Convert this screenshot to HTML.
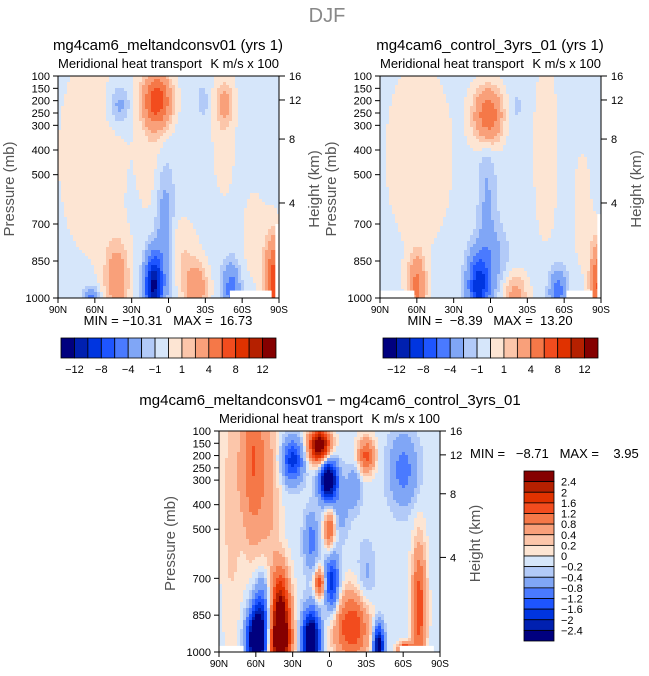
<!DOCTYPE html>
<html><head><meta charset="utf-8">
<style>
body{margin:0;background:#fff;}
svg{display:block;font-family:"Liberation Sans",sans-serif;}
</style></head>
<body>
<svg id="fig" width="649" height="676" viewBox="0 0 649 676">
<text x="327" y="22" font-size="20" fill="#888" text-anchor="middle">DJF</text>
</svg>
<script>
// ---- data ----
const latTicks = ["90N","60N","30N","0","30S","60S","90S"];
const latTickValues = [90,60,30,0,-30,-60,-90];
const presTicks = [100,150,200,250,300,400,500,700,850,1000];
const heightTicks = [16,12,8,4];
const heightTickFrac = [0,0.108,0.284,0.572];
const levels1 = [-12,-10,-8,-6,-4,-2,-1,0,1,2,4,6,8,10,12];
const levelLabels1 = ["−12","−8","−4","−1","1","4","8","12"];
const levels3 = [-2.4,-2,-1.6,-1.2,-0.8,-0.4,-0.2,0,0.2,0.4,0.8,1.2,1.6,2,2.4];
const levelLabels3 = ["2.4","2","1.6","1.2","0.8","0.4","0.2","0","−0.2","−0.4","−0.8","−1.2","−1.6","−2","−2.4"];
const colors = ["#00007f","#0020b0","#0035e0","#1e55ff","#4a7aff","#80a6f6","#b2caf8","#d6e6fa","#fde5d3","#fcc6aa","#f9a07a","#f57848","#f24c1e","#e03200","#b52000","#850000"];
// blobs: [lat, pressure, amplitude, sigmaLat, sigmaP]
const base1 = -0.5;
const blobs1 = [
 [62,420,1.1,22,330],[14,380,0.9,8,230],[-45,320,1.2,7,200],
 [9,200,7.5,8,75],[40,220,-2.3,6,55],[-28,200,-1.4,3,40],[-46,210,2.4,5,55],
 [12,950,-12,5,90],[3,720,-2.8,5,170],[42,925,3.6,7,110],[-22,960,4.2,7,70],
 [-51,960,-4.5,5,70],[-86,950,8,5,130],[63,1000,-4.5,4,30],[-10,800,1.4,10,90],[-70,750,1.0,8,150]
];
const base2 = -0.5;
const blobs2 = [
 [58,420,1.1,22,300],[-45,400,1.1,8,300],[2,260,6.5,8,80],[3,600,-1.7,5,220],
 [10,950,-8.5,6,90],[-2,850,-2,8,100],[60,950,5,5,90],[-20,985,3.2,7,60],
 [-55,970,-4.5,5,60],[-87,950,6.5,4,120],[-75,650,1.0,6,200],[-22,220,-1.2,2,30]
];
const base3 = -0.1;
const blobs3 = [
 [62,220,1.3,7,250],[80,400,0.4,6,400],[48,350,0.5,6,250],[8,160,3.2,6,50],[30,220,-1.7,6,60],
 [1,300,-3.2,5,60],[0,500,1.3,3,60],[8,720,1.6,3,40],[-2,720,-1.8,4,80],
 [15,550,-0.9,4,80],[-30,200,1.4,5,50],[-60,260,-0.9,8,100],[-20,330,-0.7,4,60],
 [60,955,-3.4,5,80],[40,950,3.6,6,120],[40,760,1.2,5,100],[15,950,-3.4,5,80],
 [-18,900,1.7,10,100],[-40,975,-2.8,3,60],[-73,820,1.6,4,180],[-62,995,2.6,4,20],
 [55,860,-1.5,5,110],[-30,700,-0.4,5,100],[-10,420,-0.5,4,80]
];
// ---- drawing helpers ----
const NS="http://www.w3.org/2000/svg";
const svg=document.getElementById('fig');
function mk(tag,attrs,parent){const e=document.createElementNS(NS,tag);for(const k in attrs)e.setAttribute(k,attrs[k]);(parent||svg).appendChild(e);return e;}
function txt(x,y,s,size,anchor,fill,parent){const t=mk('text',{x:x,y:y,'font-size':size,'text-anchor':anchor||'start',fill:fill||'#000'},parent);t.textContent=s;return t;}
function field(blobs,base,lat,p){let v=base;for(const b of blobs){const dl=(lat-b[0])/b[3],dp=(p-b[1])/b[4];v+=b[2]*Math.exp(-0.5*(dl*dl+dp*dp));}return v;}
function colorFor(v,lev){let i=0;while(i<lev.length&&v>lev[i])i++;return colors[i];}

function panel(P){
 const g=mk('g',{});
 
 
 const L=P.x,T=P.y,W=P.w,H=P.h;
 const xOf=lat=>L+(90-lat)/180*W;
 const yOf=p=>T+(p-100)/900*H;
 const cell=3;
 const cells=mk('g',{},g);
 
 
 for(let y=T;y<T+H;y+=cell){for(let x=L;x<L+W;x+=cell){
   const lat=90-((x+cell/2-L)/W)*180,p=100+((y+cell/2-T)/H)*900;
   mk('rect',{x:x,y:y,width:Math.min(cell,L+W-x)+0.4,height:Math.min(cell,T+H-y)+0.4,fill:colorFor(field(P.blobs,P.base,lat,p),P.levels)},cells);
 }}
 for(const m of P.masks){const r=mk('rect',{x:xOf(m[0]),y:yOf(m[2]),width:xOf(m[1])-xOf(m[0]),height:yOf(1000)-yOf(m[2]),fill:'#fff'},g);}
 const fr=mk('rect',{x:L,y:T,width:W,height:H,fill:'none',stroke:'#000','stroke-width':1},g);
 
 const t=txt(P.tx,T-26,P.title,15,'middle','#000',g);
 const s1=txt(L,T-8,'Meridional heat transport',13,'start','#000',g);
 const s2=txt(L+W,T-8,'K m/s x 100',13,'end','#000',g);
 latTickValues.forEach((v,i)=>{const x=xOf(v);mk('line',{x1:x,y1:T+H,x2:x,y2:T+H+5,stroke:'#000'},g);
   const l=txt(x,T+H+15,latTicks[i],10,'middle','#000',g);});
 presTicks.forEach(v=>{const y=yOf(v);mk('line',{x1:L-5,y1:y,x2:L,y2:y,stroke:'#000'},g);
   const l=txt(L-8,y+4,String(v),11,'end','#000',g);});
 heightTicks.forEach((v,i)=>{const y=T+heightTickFrac[i]*H;mk('line',{x1:L+W,y1:y,x2:L+W+6,y2:y,stroke:'#000'},g);
   const l=txt(L+W+10,y+4,String(v),11,'start','#000',g);});
 const yt=txt(0,0,'Pressure (mb)',15,'middle','#555',g);yt.setAttribute('transform',`translate(${L-44},${T+H/2+2}) rotate(-90)`);
 
 const ht=txt(0,0,'Height (km)',15,'middle','#555',g);ht.setAttribute('transform',`translate(${L+W+40},${T+H/2+2}) rotate(-90)`);
 
 if(P.minmax){const mm=txt(P.minmax[0],P.minmax[1],P.minmaxText,13,P.minmax[2],'#000',g);mm.style.whiteSpace='pre';}
}

function hbar(x,y,w,h,name){
 const g=mk('g',{});
 const bw=w/colors.length;
 colors.forEach((c,i)=>{mk('rect',{x:x+i*bw,y:y,width:bw,height:h,fill:c,stroke:'#000','stroke-width':0.8},g);});
 levelLabels1.forEach((s,j)=>{const i=2*j+1;const l=txt(x+i*bw,y+h+15,s,11,'middle','#000',g);});
}
function vbar(x,y,w,h){
 const g=mk('g',{});
 const bh=h/colors.length;
 colors.slice().reverse().forEach((c,i)=>{mk('rect',{x:x,y:y+i*bh,width:w,height:bh,fill:c,stroke:'#000','stroke-width':0.8},g);});
 levelLabels3.forEach((s,j)=>{const l=txt(x+w+7,y+(j+1)*bh+4,s,11,'start','#000',g);});
}

panel({name:'panel-meltandconsv',x:58,y:76,w:221,h:222,tx:168,title:'mg4cam6_meltandconsv01 (yrs 1)',blobs:blobs1,base:base1,levels:levels1,
 masks:[[-50,-84,970],[-87,-90,700]],minmax:[168,325,'middle'],minmaxText:'MIN = −10.31   MAX =  16.73'});
panel({name:'panel-control',x:380,y:76,w:221,h:222,tx:490,title:'mg4cam6_control_3yrs_01 (yrs 1)',blobs:blobs2,base:base2,levels:levels1,
 masks:[[90,62,970],[-62,-83,970],[-87,-90,660]],minmax:[490,325,'middle'],minmaxText:'MIN =  −8.39   MAX =  13.20'});
panel({name:'panel-difference',x:219,y:431,w:221,h:221,tx:330,title:'mg4cam6_meltandconsv01 − mg4cam6_control_3yrs_01',blobs:blobs3,base:base3,levels:levels3,
 masks:[[90,70,975],[-57,-85,975]],minmax:[470,458,'start'],minmaxText:'MIN =   −8.71   MAX =    3.95'});
hbar(61,338,215,20,'colorbar-top-left');
hbar(383,338,215,20,'colorbar-top-right');
vbar(524,471,30,170);
</script>
</body></html>
